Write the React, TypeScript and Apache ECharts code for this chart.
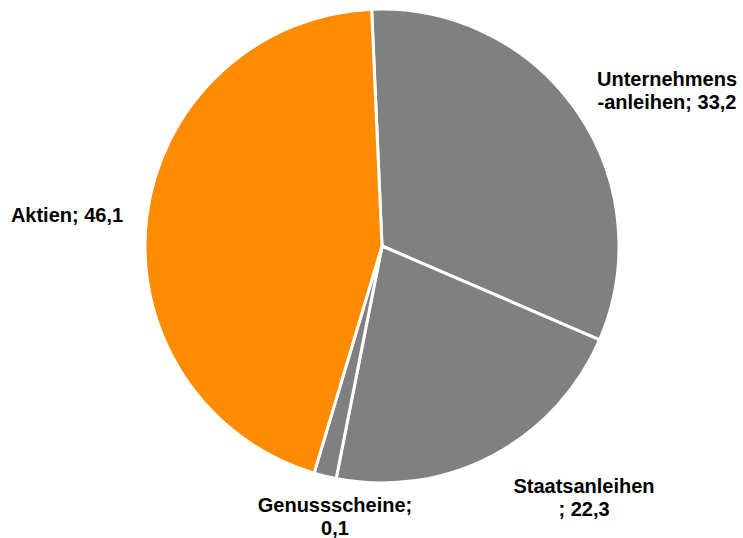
import React, { useEffect, useRef } from "react";
import * as echarts from "echarts";

const categories = ["Unternehmensanleihen", "Staatsanleihen", "Genussscheine", "Aktien"];
const labelTexts = ["Unternehmens\n-anleihen; 33,2", "Staatsanleihen\n; 22,3", "Genussscheine;\n0,1", "Aktien; 46,1"];
const values = [33.2, 22.3, 0.1, 46.1];
const colors = ["#808080", "#808080", "#808080", "#FF8C00"];

const labelPos = [
  { x: 667, y: 90 },
  { x: 584, y: 497 },
  { x: 335, y: 516 },
  { x: 67, y: 215 },
];

export default function App() {
  const ref = useRef<HTMLDivElement>(null);
  useEffect(() => {
    const chart = echarts.init(ref.current!, null, { renderer: "svg" });
    chart.setOption({
      animation: false,
      backgroundColor: "#ffffff",
      series: [
        {
          type: "pie",
          center: [382, 246],
          radius: [0, 237],
          startAngle: 92.5,
          clockwise: true,
          minAngle: 5.5,
          avoidLabelOverlap: false,
          itemStyle: { borderColor: "#ffffff", borderWidth: 3 },
          labelLine: { show: false },
          label: {
            show: true,
            position: "outside",
            formatter: (p: any) => labelTexts[p.dataIndex],
            fontFamily: "Liberation Sans, Arial, sans-serif",
            fontWeight: "bold",
            fontSize: 20,
            lineHeight: 23,
            color: "#000000",
            align: "center",
          },
          labelLayout: (p: any) => ({
            x: labelPos[p.dataIndex].x,
            y: labelPos[p.dataIndex].y,
            align: "center",
            verticalAlign: "middle",
          }),
          data: categories.map((c, i) => ({
            name: c,
            value: values[i],
            itemStyle: { color: colors[i] },
          })),
        },
      ],
    });
    return () => chart.dispose();
  }, []);
  return <div ref={ref} style={{ width: 743, height: 538, position: "absolute", left: 0, top: 0 }} />;
}
